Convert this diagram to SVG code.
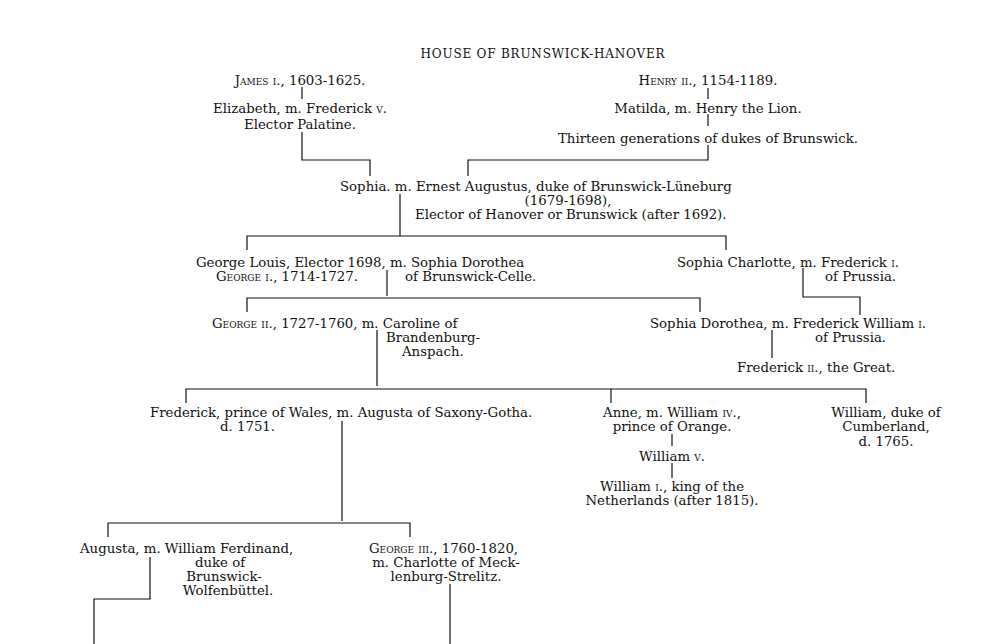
<svg xmlns="http://www.w3.org/2000/svg" width="992" height="644" viewBox="0 0 992 644">
<style>
text{font-family:"DejaVu Serif","Liberation Serif",serif;font-size:13.3px;fill:#111}
.c{text-anchor:middle}
.sc{font-variant:small-caps}
#conn path{stroke:#111;stroke-width:1.2;fill:none}
</style>
<rect width="992" height="644" fill="#fff"/>
<g id="conn">
<path d="M302 87V99M302 132V160H370V176"/>
<path d="M708 88V99M708 114V126M708 145V160H468V176"/>
<path d="M400 194V236M247 250V236H726V250"/>
<path d="M387 270V296M803 268V297H860V315"/>
<path d="M247 312V298H700V312"/>
<path d="M377 330V386M772 330V358"/>
<path d="M186 403V389H866V403M611 389V403"/>
<path d="M342 421V521M672 434V446M672 463V478"/>
<path d="M108 537V523H410V537"/>
<path d="M150 557V599H94V644M450 584V644"/>
</g>
<g transform="translate(0,3)">
<text class="c" x="543" y="55" style="font-size:12px;letter-spacing:0.8px">HOUSE OF BRUNSWICK-HANOVER</text>
<g id="james"><text class="c" x="300" y="82"><tspan class="sc">James i.</tspan>, 1603-1625.</text></g>
<g id="elizabeth"><text class="c" x="300" y="110">Elizabeth, m. Frederick <tspan class="sc">v.</tspan></text><text class="c" x="300" y="126">Elector Palatine.</text></g>
<g id="henry"><text class="c" x="708" y="82"><tspan class="sc">Henry ii.</tspan>, 1154-1189.</text></g>
<g id="matilda"><text class="c" x="708" y="110">Matilda, m. Henry the Lion.</text></g>
<g id="thirteen"><text class="c" x="708" y="140">Thirteen generations of dukes of Brunswick.</text></g>
<g id="sophia"><text x="340" y="188">Sophia. m. Ernest Augustus, duke of Brunswick-Lüneburg</text><text class="c" x="568" y="202">(1679-1698),</text><text x="415" y="216">Elector of Hanover or Brunswick (after 1692).</text></g>
<g id="george1"><text x="196" y="264">George Louis, Elector 1698, m. Sophia Dorothea</text><text x="216" y="278"><tspan class="sc">George i.</tspan>, 1714-1727.</text><text x="405" y="278">of Brunswick-Celle.</text></g>
<g id="sophiacharlotte"><text x="677" y="264">Sophia Charlotte, m. Frederick <tspan class="sc">i.</tspan></text><text x="825" y="278">of Prussia.</text></g>
<g id="george2"><text x="212" y="325"><tspan class="sc">George ii.</tspan>, 1727-1760, m. Caroline of</text><text x="386" y="339">Brandenburg-</text><text x="402" y="353">Anspach.</text></g>
<g id="sophiadorothea"><text x="650" y="325">Sophia Dorothea, m. Frederick William <tspan class="sc">i.</tspan></text><text x="815" y="339">of Prussia.</text></g>
<g id="frederick2"><text x="737" y="369">Frederick <tspan class="sc">ii.</tspan>, the Great.</text></g>
<g id="fredwales"><text x="150" y="414">Frederick, prince of Wales, m. Augusta of Saxony-Gotha.</text><text x="220" y="428">d. 1751.</text></g>
<g id="anne"><text class="c" x="672" y="414">Anne, m. William <tspan class="sc">iv.</tspan>,</text><text class="c" x="672" y="428">prince of Orange.</text></g>
<g id="william5"><text class="c" x="672" y="458">William <tspan class="sc">v.</tspan></text></g>
<g id="william1"><text class="c" x="672" y="488">William <tspan class="sc">i.</tspan>, king of the</text><text class="c" x="672" y="502">Netherlands (after 1815).</text></g>
<g id="cumberland"><text class="c" x="886" y="414">William, duke of</text><text class="c" x="886" y="428">Cumberland,</text><text class="c" x="886" y="443">d. 1765.</text></g>
<g id="augusta"><text x="80" y="550">Augusta, m. William Ferdinand,</text><text class="c" x="220" y="564">duke of</text><text class="c" x="224" y="578">Brunswick-</text><text class="c" x="228" y="592">Wolfenbüttel.</text></g>
<g id="george3"><text x="369" y="550"><tspan class="sc">George iii.</tspan>, 1760-1820,</text><text class="c" x="446" y="564">m. Charlotte of Meck-</text><text class="c" x="446" y="578">lenburg-Strelitz.</text></g>
</g>
</svg>
